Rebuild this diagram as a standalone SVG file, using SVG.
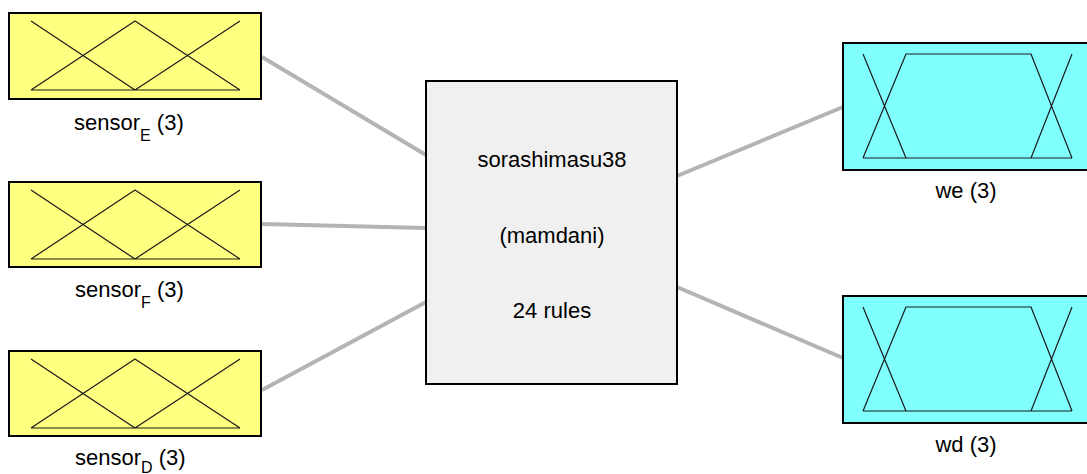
<svg xmlns="http://www.w3.org/2000/svg" width="1087" height="474" viewBox="0 0 1087 474">
  <style>
    .lbl { font-family: "Liberation Sans", Arial, sans-serif; font-size: 22px; fill: #000; }
    .sub { font-size: 16px; }
    .in { fill: #ffff80; stroke: #000; stroke-width: 2; }
    .out { fill: #80ffff; stroke: #000; stroke-width: 2; }
    .sys { fill: #f0f0f0; stroke: #000; stroke-width: 2; }
    .mf { fill: none; stroke: #1a1a1a; stroke-width: 1.2; stroke-linejoin: round; }
    .link { stroke: #b4b4b4; stroke-width: 4; fill: none; }
  </style>
  <defs>
    <!-- three triangular membership functions (input variables) -->
    <g id="tri3">
      <path class="mf" d="M22 8 L126 77 L231 8 M22 77 L126 8 L231 77 M22 77 L231 77"/>
    </g>
  </defs>

  <rect width="1087" height="474" fill="#fff"/>

  <g id="connectors">
    <line class="link" x1="262" y1="57" x2="426" y2="155"/>
    <line class="link" x1="262" y1="224" x2="426" y2="228"/>
    <line class="link" x1="262" y1="390" x2="426" y2="302"/>
    <line class="link" x1="677" y1="176" x2="843" y2="107"/>
    <line class="link" x1="677" y1="287" x2="843" y2="358"/>
  </g>

  <g id="sensorE">
    <rect class="in" x="9" y="13" width="252" height="86"/>
    <use href="#tri3" x="9" y="13"/>
    <text class="lbl" x="74" y="130">sensor<tspan class="sub" dy="11">E</tspan><tspan dy="-11"> (3)</tspan></text>
  </g>

  <g id="sensorF">
    <rect class="in" x="9" y="182" width="252" height="85"/>
    <use href="#tri3" x="9" y="182"/>
    <text class="lbl" x="75" y="297">sensor<tspan class="sub" dy="11">F</tspan><tspan dy="-11"> (3)</tspan></text>
  </g>

  <g id="sensorD">
    <rect class="in" x="9" y="351" width="252" height="85"/>
    <use href="#tri3" x="9" y="351"/>
    <text class="lbl" x="75" y="465">sensor<tspan class="sub" dy="8">D</tspan><tspan dy="-8"> (3)</tspan></text>
  </g>

  <g id="system">
    <rect class="sys" x="426" y="81" width="251" height="303"/>
    <text class="lbl" x="552" y="167" text-anchor="middle">sorashimasu38</text>
    <text class="lbl" x="552" y="243" text-anchor="middle">(mamdani)</text>
    <text class="lbl" x="552" y="318" text-anchor="middle">24 rules</text>
  </g>

  <g id="we">
    <rect class="out" x="843" y="43" width="250" height="127"/>
    <path class="mf" d="M863 54 L906 158 M863 158 L906 54 L1031 54 L1072 158 M1031 158 L1072 54 M863 158 L1072 158"/>
    <text class="lbl" x="966" y="198" text-anchor="middle">we (3)</text>
  </g>

  <g id="wd">
    <rect class="out" x="843" y="296" width="250" height="127"/>
    <path class="mf" d="M863 307 L906 411 M863 411 L906 307 L1031 307 L1072 411 M1031 411 L1072 307 M863 411 L1072 411"/>
    <text class="lbl" x="966" y="452" text-anchor="middle">wd (3)</text>
  </g>
</svg>
